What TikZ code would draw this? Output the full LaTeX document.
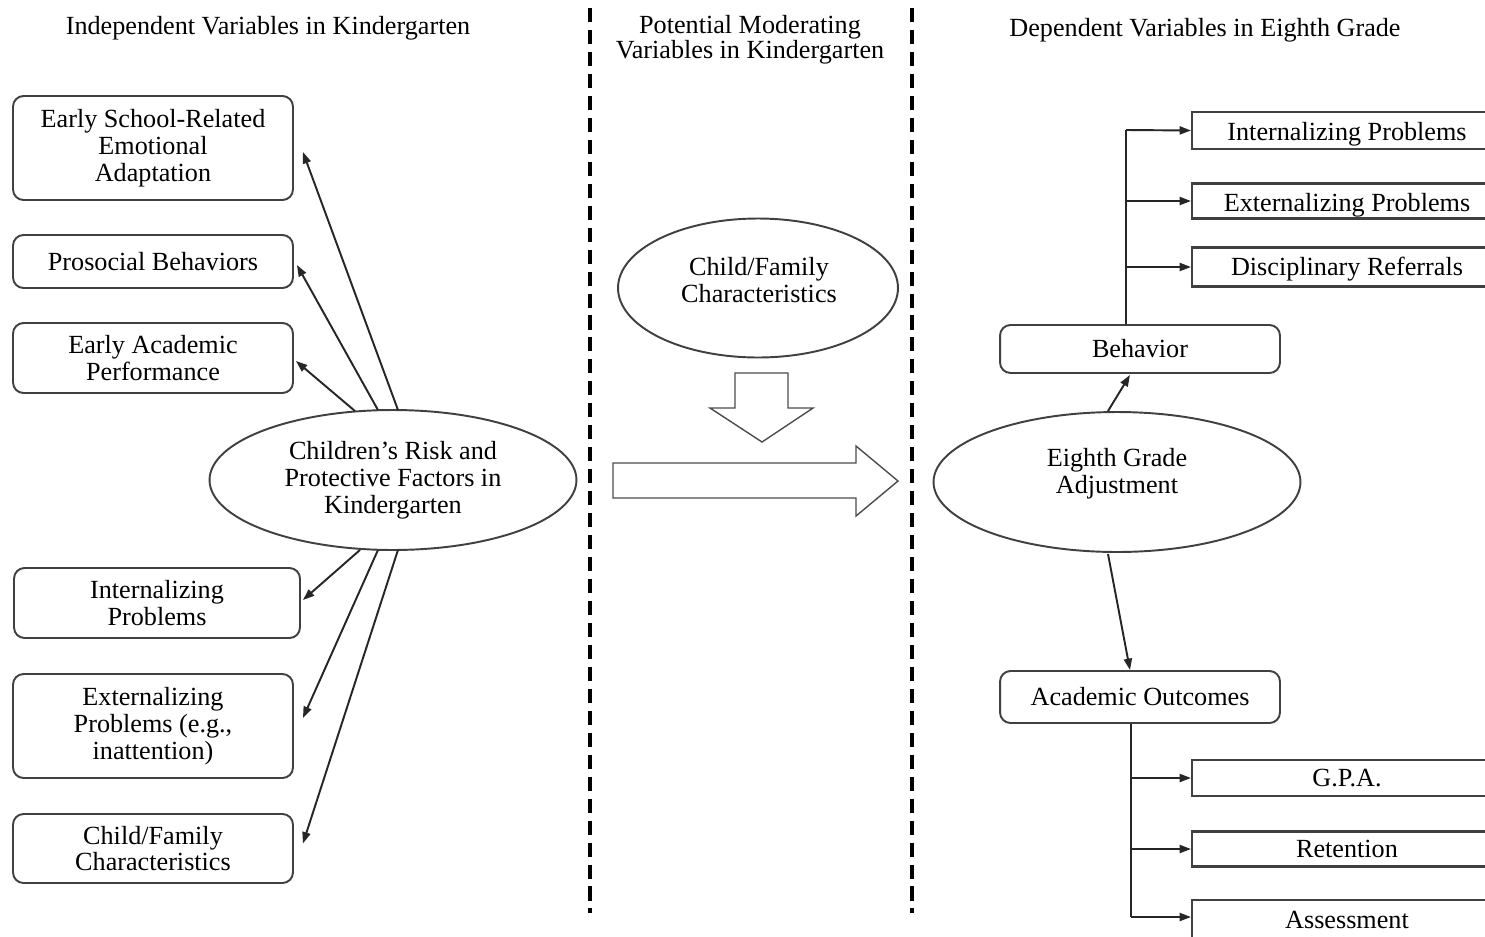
\documentclass[tikz,border=0pt]{standalone}
\usepackage{fontspec}
\setmainfont{Liberation Serif}
\usetikzlibrary{shapes.geometric,arrows.meta,calc}
\newcommand{\lowtext}[1]{\raisebox{-0.08cm}[\height][\depth]{#1}}
\begin{document}
\begin{tikzpicture}[x=0.02cm,y=-0.02cm,
  every node/.style={font=\fontsize{14.9}{15.3}\selectfont, text=black, inner sep=0pt, align=center},
  rbox/.style={draw=black!75, line width=1.1pt, rounded corners=6pt, minimum width=5.6cm},
  sbox/.style={draw=black!75, line width=1.2pt, minimum width=6.2cm},
  oval/.style={draw=black!75, line width=1.1pt, ellipse},
  arr/.style={draw=black!85, line width=1.1pt, -{Triangle[length=6.5pt,width=4.6pt]}},
  link/.style={draw=black!85, line width=1.1pt},
  divider/.style={draw=black, line width=2.2pt, dash pattern=on 8pt off 4.5pt},
  blockarrow/.style={draw=black!70, line width=0.8pt, fill=white, line join=miter}
]
\useasboundingbox (0,0) rectangle (1485,937);
\clip (0,0) rectangle (1485,937);
\fill[white] (0,0) rectangle (1485,937);

% titles
\node (t1) at (268,28) {Independent Variables in Kindergarten};
\node (t2) at (750,40) {Potential Moderating\\[-1.3pt]Variables in Kindergarten};
\node (t3) at (1205,30) {Dependent Variables in Eighth Grade};

% dividers
\draw[divider] (590,8) -- (590,913);
\draw[divider] (912,8) -- (912,913);

% left boxes
\node[rbox, minimum height=2.08cm] (b1) at (153,148) {Early School-Related\\Emotional\\Adaptation};
\node[rbox, minimum height=1.06cm] (b2) at (153,261.5) {Prosocial Behaviors};
\node[rbox, minimum height=1.4cm] (b3) at (153,358) {Early Academic\\Performance};
\node[rbox, minimum height=1.4cm, minimum width=5.72cm] (b4) at (157,603) {Internalizing\\Problems};
\node[rbox, minimum height=2.08cm] (b5) at (153,726) {Externalizing\\Problems (e.g.,\\inattention)};
\node[rbox, minimum height=1.38cm] (b6) at (153,848.5) {Child/Family\\Characteristics};

% left ellipse
\node[oval, minimum width=7.34cm, minimum height=2.8cm] (e1) at (393,480) {};
\node (e1t) at (393,480) {Children's Risk and\\Protective Factors in\\Kindergarten};

\draw[arr] ([shift={(5,1)}]e1.north) -- ([shift={(9,4)}]b1.east);
\draw[arr] ([shift={(-15,1)}]e1.north) -- ([shift={(3,3.5)}]b2.east);
\draw[arr] ([shift={(-38,2)}]e1.north) -- ([shift={(2,3)}]b3.east);
\draw[arr] ([shift={(-33,-1)}]e1.south) -- ([shift={(2,-3)}]b4.east);
\draw[arr] ([shift={(-15,-1)}]e1.south) -- ([shift={(9,-8)}]b5.east);
\draw[arr] ([shift={(5,-1)}]e1.south) -- ([shift={(9,-5)}]b6.east);

% middle
\node[oval, minimum width=5.6cm, minimum height=2.78cm] (e2) at (758,288) {};
\node (e2t) at (759,280) {Child/Family\\Characteristics};

\draw[blockarrow] (735,373) -- (788,373) -- (788,408) -- (813,408) -- (762,442) -- (710,408) -- (735,408) -- cycle;
\draw[blockarrow] (613,463) -- (856,463) -- (856,446) -- (898,481) -- (856,516) -- (856,498) -- (613,498) -- cycle;

% right ellipse
\node[oval, minimum width=7.34cm, minimum height=2.8cm] (e3) at (1117,482) {};
\node (e3t) at (1117,474) {Eighth Grade\\Adjustment};

\node[rbox, minimum height=0.96cm] (beh) at (1140,349) {Behavior};
\node[rbox, minimum height=1.04cm] (acad) at (1140,697) {Academic Outcomes};

\draw[arr] ([shift={(-9,0)}]e3.north) -- ([shift={(-10,1)}]beh.south);
\draw[arr] ([shift={(-9,1)}]e3.south) -- ([shift={(-10,0)}]acad.north);

% behavior outcomes
\node[sbox, minimum height=0.74cm] (ip) at (1347,130.5) {\lowtext{Internalizing Problems}};
\node[sbox, minimum height=0.7cm] (ep) at (1347,201) {\lowtext{Externalizing Problems}};
\node[sbox, minimum height=0.78cm] (dr) at (1347,267) {\raisebox{-0.05cm}[\height][\depth]{Disciplinary Referrals}};

\coordinate (bv) at (1126,130);
\draw[link] (beh.north -| bv) -- (bv);
\draw[arr] (bv) -- (ip.west);
\draw[arr] (ep.west -| bv) -- (ep.west);
\draw[arr] (dr.west -| bv) -- (dr.west);

% academic outcomes
\node[sbox, minimum height=0.72cm] (gpa) at (1347,778) {G.P.A.};
\node[sbox, minimum height=0.7cm] (ret) at (1347,849) {Retention};
\node[sbox, minimum height=0.8cm] (ass) at (1347,920) {Assessment};

\coordinate (av) at (1131,917);
\draw[link] (acad.south -| av) -- (av);
\draw[arr] (gpa.west -| av) -- (gpa.west);
\draw[arr] (ret.west -| av) -- (ret.west);
\draw[arr] (av) -- (ass.west |- av);
\end{tikzpicture}
\end{document}
